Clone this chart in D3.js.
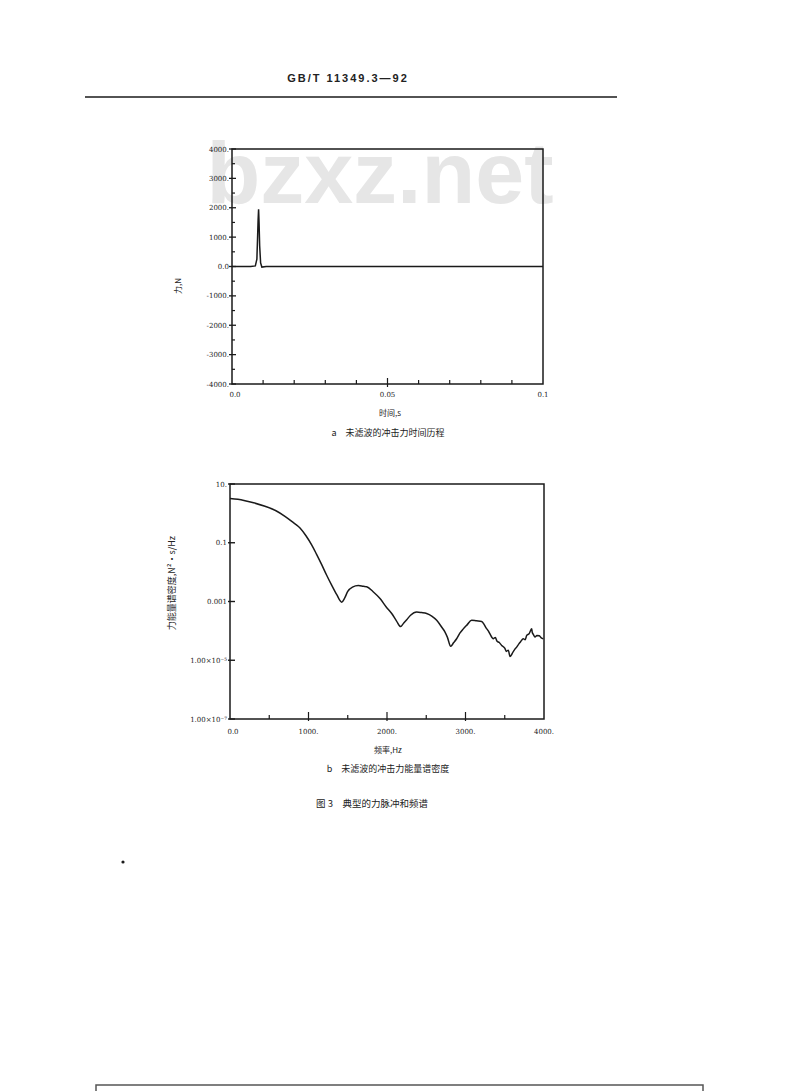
<!DOCTYPE html>
<html><head><meta charset="utf-8">
<script src="https://cdn.jsdelivr.net/npm/d3@7"></script>
<style>
html,body{margin:0;padding:0;background:#fff;}
svg{display:block;}
text{font-family:"DejaVu Serif","Liberation Serif",serif;fill:#222;}
.cjk{font-family:"Noto Sans CJK SC",sans-serif;}
</style></head><body>
<svg id="c" width="800" height="1091"></svg>
<script>
// ---- Data: chart a (force time history) ----
const timeS = [0, 0.0060, 0.0075, 0.0080, 0.0082, 0.0084, 0.00855, 0.0087, 0.0089, 0.0092, 0.0096, 0.0110, 0.1];
const forceN = [0, 0, 20, 250, 900, 1600, 1950, 1500, 700, 120, -20, 0, 0];
const forceTicks = [4000, 3000, 2000, 1000, 0, -1000, -2000, -3000, -4000];
const forceTickLabels = ["4000.", "3000.", "2000.", "1000.", "0.0", "-1000.", "-2000.", "-3000.", "-4000."];
const timeTicks = [0, 0.05, 0.1];
const timeTickLabels = ["0.0", "0.05", "0.1"];

// ---- Data: chart b (energy spectral density) ----
const freqHz = [0,100,191,300,446,580,700,800,892,970,1040,1100,1168,1230,1295,1360,1423,1460,1500,1560,1635,1700,1741,1820,1911,1990,2060,2120,2174,2210,2251,2300,2378,2440,2505,2570,2633,2700,2739,2770,2811,2850,2887,2930,2972,3020,3078,3140,3205,3240,3260,3290,3310,3354,3380,3400,3430,3461,3500,3520,3545,3567,3590,3600,3630,3652,3680,3700,3736,3760,3780,3810,3843,3850,3865,3885,3910,3940,3965,3991];
const esd = [3.2,3.0,2.7,2.3,1.74,1.25,0.79,0.5,0.32,0.17,0.085,0.042,0.018,0.008,0.0036,0.0017,0.00095,0.0013,0.0022,0.0031,0.0035,0.0033,0.0032,0.0022,0.00126,0.00065,0.00039,0.00022,0.00014,0.00018,0.00024,0.00034,0.00044,0.00042,0.00039,0.00032,0.00023,0.00013,0.000091,0.000060,0.000030,0.000040,0.000054,0.000085,0.000117,0.00016,0.00023,0.00022,0.00021,0.00016,0.00013,0.00010,0.00008,0.000054,0.000060,0.000045,0.000040,0.000032,0.000026,0.000020,0.000022,0.0000135,0.000016,0.000018,0.000024,0.000028,0.000036,0.000042,0.000054,0.000050,0.000070,0.000080,0.000117,0.00009,0.000075,0.000062,0.000070,0.000068,0.000058,0.000054];
const esdTicks = [10, 0.1, 0.001, 1e-5, 1e-7];
const esdTickLabels = ["10.", "0.1", "0.001", "1.00×10⁻⁵", "1.00×10⁻⁷"];
const freqTicks = [0, 1000, 2000, 3000, 4000];
const freqTickLabels = ["0.0", "1000.", "2000.", "3000.", "4000."];

const svg = d3.select("#c");
const ink = "#1a1a1a";

// watermark
svg.append("text").attr("x", 380).attr("y", 203).attr("text-anchor", "middle")
  .style("font-family", "'Liberation Sans',Arial,sans-serif").style("font-weight", "bold")
  .style("font-size", "88px").style("fill", "#e6e6e6").text("bzxz.net");

// header
svg.append("text").attr("x", 348).attr("y", 82).attr("text-anchor", "middle")
  .style("font-family", "'Liberation Sans',Arial,sans-serif").style("font-weight", "bold")
  .style("font-size", "11px").style("letter-spacing", "2px").text("GB/T 11349.3—92");
svg.append("line").attr("x1", 85).attr("x2", 617).attr("y1", 97).attr("y2", 97)
  .attr("stroke", ink).attr("stroke-width", 1.6);

// bottom frame
svg.append("rect").attr("x", 96).attr("y", 1085).attr("width", 607).attr("height", 20)
  .attr("fill", "none").attr("stroke", "#555").attr("stroke-width", 1.5);

// stray speck
svg.append("circle").attr("cx", 123).attr("cy", 862).attr("r", 1.6).attr("fill", ink);

// ---------- Chart a ----------
const xA = d3.scaleLinear().domain([0, 0.1]).range([232, 543]);
const yA = d3.scaleLinear().domain([-4000, 4000]).range([384, 149]);
const gA = svg.append("g");
gA.append("rect").attr("x", xA(0)).attr("y", yA(4000)).attr("width", xA(0.1) - xA(0)).attr("height", yA(-4000) - yA(4000))
  .attr("fill", "none").attr("stroke", ink).attr("stroke-width", 1.5);
forceTicks.forEach((v, i) => {
  gA.append("line").attr("x1", xA(0) - 3).attr("x2", xA(0) + 4).attr("y1", yA(v)).attr("y2", yA(v)).attr("stroke", ink).attr("stroke-width", 1.3);
  gA.append("text").attr("x", xA(0) - 3).attr("y", yA(v) + 2.5).attr("text-anchor", "end").style("font-size", "7px").text(forceTickLabels[i]);
});
d3.range(-3500, 4000, 1000).forEach(v => {
  gA.append("line").attr("x1", xA(0)).attr("x2", xA(0) + 3).attr("y1", yA(v)).attr("y2", yA(v)).attr("stroke", ink).attr("stroke-width", 1.2);
});
d3.range(1, 10).forEach(k => {
  const t = k * 0.01;
  const big = k === 5;
  gA.append("line").attr("x1", xA(t)).attr("x2", xA(t)).attr("y1", yA(-4000) + (big ? 3 : 0)).attr("y2", yA(-4000) - (big ? 6 : 4)).attr("stroke", ink).attr("stroke-width", 1.2);
});
timeTicks.forEach((v, i) => {
  gA.append("text").attr("x", xA(v) + (i === 0 ? 3 : 0)).attr("y", yA(-4000) + 13).attr("text-anchor", "middle").style("font-size", "7px").text(timeTickLabels[i]);
});
gA.append("path").datum(timeS.map((t, i) => [t, forceN[i]]))
  .attr("d", d3.line().x(d => xA(d[0])).y(d => yA(d[1])))
  .attr("fill", "none").attr("stroke", ink).attr("stroke-width", 1.5);
gA.append("text").attr("class", "cjk").attr("x", 390).attr("y", 416).attr("text-anchor", "middle").style("font-size", "8px").text("时间,s");
gA.append("text").attr("class", "cjk").attr("x", 388).attr("y", 436).attr("text-anchor", "middle").style("font-size", "9px").text("a　未滤波的冲击力时间历程");
gA.append("text").attr("class", "cjk").attr("transform", "translate(181,286) rotate(-90)").attr("text-anchor", "middle").style("font-size", "8px").text("力,N");

// ---------- Chart b ----------
const xB = d3.scaleLinear().domain([0, 4000]).range([230, 544]);
const yB = d3.scaleLog().domain([1e-7, 10]).range([719, 484]);
const gB = svg.append("g");
gB.append("rect").attr("x", xB(0)).attr("y", yB(10)).attr("width", xB(4000) - xB(0)).attr("height", yB(1e-7) - yB(10))
  .attr("fill", "none").attr("stroke", ink).attr("stroke-width", 1.5);
esdTicks.forEach((v, i) => {
  gB.append("line").attr("x1", xB(0) - 2).attr("x2", xB(0) + 5).attr("y1", yB(v)).attr("y2", yB(v)).attr("stroke", ink).attr("stroke-width", 1.4);
  gB.append("text").attr("x", xB(0) - 3).attr("y", yB(v) + 2.5).attr("text-anchor", "end").style("font-size", "7px").text(esdTickLabels[i]);
});
d3.range(1, 8).forEach(k => {
  const f = k * 500;
  const big = k % 2 === 0;
  gB.append("line").attr("x1", xB(f)).attr("x2", xB(f)).attr("y1", yB(1e-7) + (big ? 2 : 0)).attr("y2", yB(1e-7) - (big ? 7 : 4)).attr("stroke", ink).attr("stroke-width", 1.2);
});
freqTicks.forEach((v, i) => {
  gB.append("text").attr("x", xB(v) + (i === 0 ? 3 : 0)).attr("y", yB(1e-7) + 15).attr("text-anchor", "middle").style("font-size", "7px").text(freqTickLabels[i]);
});
gB.append("path").datum(freqHz.map((f, i) => [f, esd[i]]))
  .attr("d", d3.line().curve(d3.curveMonotoneX).x(d => xB(d[0])).y(d => yB(d[1])))
  .attr("fill", "none").attr("stroke", ink).attr("stroke-width", 1.5);
gB.append("text").attr("class", "cjk").attr("x", 388).attr("y", 753).attr("text-anchor", "middle").style("font-size", "8px").text("频率,Hz");
gB.append("text").attr("class", "cjk").attr("x", 388).attr("y", 772).attr("text-anchor", "middle").style("font-size", "9px").text("b　未滤波的冲击力能量谱密度");
gB.append("text").attr("class", "cjk").attr("transform", "translate(175,583) rotate(-90)").attr("text-anchor", "middle").style("font-size", "9px").text("力能量谱密度,N²·s/Hz");

svg.append("text").attr("class", "cjk").attr("x", 372).attr("y", 807).attr("text-anchor", "middle").style("font-size", "9.5px").text("图 3　典型的力脉冲和频谱");
</script>
</body></html>
